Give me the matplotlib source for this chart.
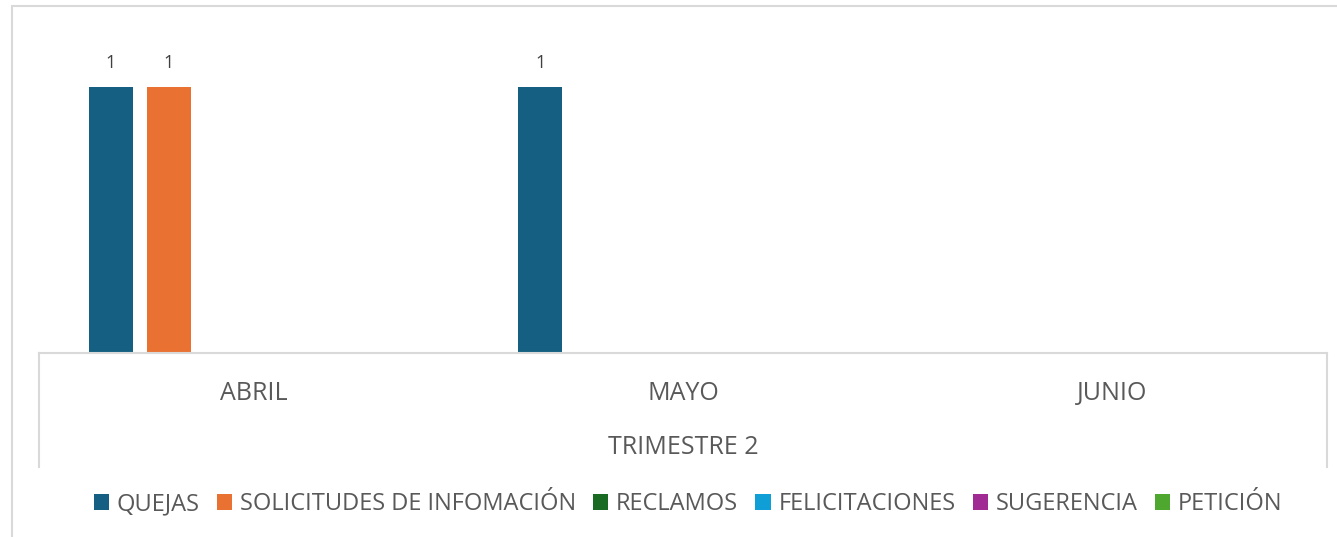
import numpy as np
import matplotlib.pyplot as plt
from matplotlib.lines import Line2D
from matplotlib.patches import Rectangle

months = ["ABRIL", "MAYO", "JUNIO"]
group_label = "TRIMESTRE 2"
series = ["QUEJAS", "SOLICITUDES DE INFOMACIÓN", "RECLAMOS",
          "FELICITACIONES", "SUGERENCIA", "PETICIÓN"]
quejas = [1, 1, 0]
solicitudes = [1, 0, 0]
reclamos = [0, 0, 0]
felicitaciones = [0, 0, 0]
sugerencia = [0, 0, 0]
peticion = [0, 0, 0]
colors = ["#156082", "#E97132", "#196B24", "#0F9ED5", "#A02B93", "#4EA72E"]

values = [quejas, solicitudes, reclamos, felicitaciones, sugerencia, peticion]

plt.rcParams['font.family'] = ['Open Sans', 'DejaVu Sans']
text_color = "#595959"
line_color = "#d9d9d9"

W, H = 1337, 537
fig = plt.figure(figsize=(W / 100, H / 100), dpi=100)

def fx(px):
    return px / W

def fy(py):
    return 1 - py / H

# plot area in pixel coords
left, right, top, base = 39, 1327, 34, 353
ax = fig.add_axes([fx(left), fy(base), fx(right - left), (base - top) / H])

x = np.arange(len(months))
step = 0.135
width = 0.1026
for i, (name, vals, c) in enumerate(zip(series, values, colors)):
    bars = ax.bar(x + (i - 2.5) * step + 0.005, vals, width, color=c, label=name)
    labels = [str(v) if v else "" for v in vals]
    ax.bar_label(bars, labels=labels, padding=11, fontsize=13, color="#404040")

ax.set_xlim(-0.5, 2.5)
ax.set_ylim(0, 1.2)
ax.set_yticks([])
ax.set_xticks(x)
ax.set_xticklabels(months, fontsize=18, color=text_color)
ax.tick_params(axis='x', length=0, pad=20)
for s in ["top", "left", "right"]:
    ax.spines[s].set_visible(False)
ax.spines["bottom"].set_color(line_color)
ax.spines["bottom"].set_linewidth(1.5)

# multi-level axis box
for xp in (left, right):
    fig.add_artist(Line2D([fx(xp), fx(xp)], [fy(base), fy(467)],
                          color=line_color, lw=1.5))
fig.text(fx(683), fy(448), group_label, ha="center", va="center",
         fontsize=18, color=text_color)

# chart border
fig.add_artist(Rectangle((fx(12), fy(540)), fx(1340), fy(6) - fy(540),
                         fill=False, edgecolor=line_color, lw=1.5,
                         transform=fig.transFigure))

leg = fig.legend(loc="center", bbox_to_anchor=(fx(688), fy(504)), ncol=6,
                 frameon=False, fontsize=17, handlelength=0.65, handleheight=0.65,
                 handletextpad=0.33, columnspacing=0.72, labelcolor=text_color)

fig.savefig("out.png", dpi=100)
